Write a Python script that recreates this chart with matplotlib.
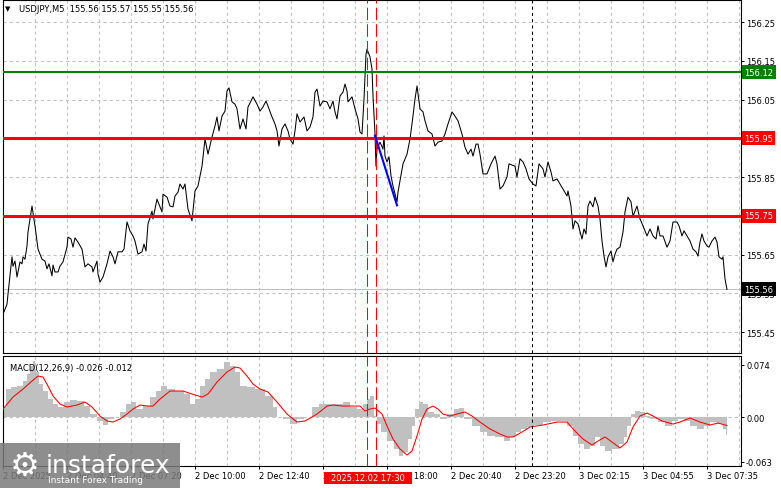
import matplotlib
matplotlib.use('Agg')
import matplotlib.pyplot as plt
from matplotlib.patches import Rectangle

plt.rcParams['font.family'] = ['DejaVu Sans']
plt.rcParams['font.size'] = 6

# USDJPY M5 close, x = bar number (5 min bars) from the left edge
bars = [0.5, 2, 2.5, 4.5, 5, 6, 7, 7.5, 8.5, 9.5, 10, 11, 12, 12.5, 14.5, 16, 17.5, 19.5, 21, 22,
        23, 24.5, 25, 26, 27.5, 28.5, 30, 32, 32.5, 34, 35, 36, 37.5, 39.5, 41, 42.5, 44.5, 45, 47, 47.5,
        48.5, 50, 52, 53.5, 55, 56, 57.5, 59.5, 60.5, 62, 63.5, 65, 66, 67.5, 69.5, 70.5, 71.5, 72.5, 74.5, 75,
        77, 77.5, 79.5, 80, 82, 83.5, 85, 86, 87.5, 88.5, 90, 91, 92.5, 94.5, 96, 97.5, 99.5, 101, 102.5, 104.5,
        106, 107, 108, 109.5, 111, 112, 113, 114.5, 116, 117, 118.5, 120, 121.5, 122.5, 124, 125, 127, 128.5, 130, 131.5,
        132.5, 134.5, 136, 137, 138, 139.5, 141, 142.5, 143.5, 145, 146, 147, 148.5, 150.5, 152, 153.5, 155, 156,
        157, 158.5, 160, 162, 163.5, 165, 166, 167, 168.5, 170, 171, 172, 172.5, 174.5, 176, 177.5, 178.5, 179.5,
        180.5, 181.5, 182, 183.5, 184.5, 185, 186, 186.5, 187, 188.5, 190, 190.5, 191, 192, 193, 194, 195, 197,
        197.5, 198.5, 200, 202, 203.5, 204.5, 206, 207, 208.5, 210, 211, 212.5, 214.5, 216, 217.5, 219.5, 221, 222.5,
        224.5, 226, 227.5, 229.5, 231, 232.5, 234, 235, 236.5, 237.5, 238.5, 240, 242, 244, 246, 247, 248.5, 250,
        252, 253, 256, 257, 258.5, 260, 261.5, 263, 265, 266.5, 268, 270, 271, 272.5, 274, 275, 277, 278.5,
        280, 282, 282.5, 284, 285, 286, 287.5, 289.5, 290.5, 291.5, 292.5, 293.5, 295, 296, 297.5, 298.5, 299.5, 300.5,
        301.5, 302.5, 304, 305, 306, 307, 308.5, 310, 311, 312.5, 314, 315, 316, 317, 318.5, 320, 322, 323.5,
        325, 326.5, 327.5, 328.5, 330, 332, 333.5, 335, 337, 338, 339.5, 340.5, 342, 343.5, 345, 346.5, 347.5, 348.5,
        349.5, 350.5, 352, 353, 354.5, 356, 357, 358, 359.5, 360, 361, 362]
close = [155.502, 155.522, 155.548, 155.644, 155.620, 155.633, 155.592, 155.605, 155.631, 155.626,
         155.644, 155.638, 155.672, 155.708, 155.775, 155.724, 155.664, 155.638, 155.633, 155.613,
         155.626, 155.595, 155.623, 155.605, 155.605, 155.620, 155.631, 155.669, 155.695, 155.690,
         155.669, 155.693, 155.682, 155.664, 155.618, 155.626, 155.618, 155.605, 155.633, 155.600,
         155.579, 155.592, 155.626, 155.659, 155.644, 155.626, 155.657, 155.657, 155.664, 155.734,
         155.711, 155.698, 155.685, 155.651, 155.657, 155.677, 155.659, 155.729, 155.762, 155.742,
         155.793, 155.786, 155.760, 155.806, 155.798, 155.775, 155.773, 155.801, 155.811, 155.832,
         155.819, 155.832, 155.767, 155.737, 155.814, 155.827, 155.878, 155.948, 155.909, 155.953,
         155.982, 156.005, 155.969, 156.007, 156.020, 156.072, 156.080, 156.044, 156.038, 156.026,
         155.974, 156.000, 155.974, 156.031, 156.046, 156.057, 156.038, 156.020, 156.031, 156.046,
         156.033, 156.005, 155.987, 155.969, 155.930, 155.974, 155.987, 155.969, 155.948, 155.935,
         155.969, 156.013, 155.992, 156.005, 155.969, 155.979, 156.005, 156.069,
         156.077, 156.033, 156.046, 156.044, 156.026, 156.046, 156.018, 156.000, 156.059, 156.069,
         156.090, 156.072, 156.044, 156.057, 156.026, 156.000, 155.966, 155.961,
         156.051, 156.167, 156.180, 156.160, 156.129, 156.059, 155.961, 155.878, 155.922, 155.940,
         155.922, 155.956, 155.904, 155.889, 155.902, 155.853, 155.827, 155.786,
         155.811, 155.840, 155.884, 155.909, 155.948, 155.987, 156.051, 156.085, 156.026, 156.018,
         155.995, 155.969, 155.961, 155.930, 155.940, 155.943, 155.961, 155.987,
         156.018, 156.007, 155.995, 155.961, 155.927, 155.909, 155.922, 155.904, 155.935, 155.935,
         155.909, 155.858, 155.858, 155.884, 155.904, 155.884, 155.819, 155.827,
         155.850, 155.884, 155.878, 155.850, 155.897, 155.889, 155.871, 155.845, 155.832, 155.827,
         155.884, 155.871, 155.850, 155.889, 155.863, 155.840, 155.845, 155.832,
         155.819, 155.801, 155.814, 155.775, 155.716, 155.737, 155.729, 155.690, 155.716, 155.703,
         155.775, 155.788, 155.773, 155.798, 155.775, 155.742, 155.685, 155.646,
         155.618, 155.644, 155.659, 155.631, 155.651, 155.664, 155.669, 155.708, 155.760, 155.798,
         155.786, 155.749, 155.762, 155.775, 155.742, 155.724, 155.698, 155.716,
         155.698, 155.690, 155.724, 155.698, 155.698, 155.669, 155.685, 155.734, 155.734, 155.724,
         155.698, 155.711, 155.698, 155.685, 155.664, 155.657, 155.646, 155.682,
         155.703, 155.685, 155.672, 155.669, 155.685, 155.695, 155.682, 155.644, 155.638, 155.644,
         155.587, 155.560]

green_level = 156.12
red_levels = [155.95, 155.75]
last_price = 155.56

trend_bars = [186, 197]
trend_vals = [155.957, 155.777]

red_vlines = [182, 186.5]
black_vline = 264.5

# MACD(12,26,9): main as histogram, signal as red line
hist_bars = [0, 2.5, 5, 8.5, 11, 12.5, 14.5, 15, 17, 18.5, 21, 23.5, 26, 28.5, 32, 35, 38.5, 42, 45, 48.5,
             51, 53.5, 57, 60, 62.5, 65, 67.5, 72, 75, 77.5, 80, 83.5, 88.5, 92, 94.5, 97, 99.5, 102, 105, 108.5,
             112, 114.5, 117, 120, 123.5, 128.5, 133.5, 136, 137.5, 142, 145, 148.5, 152.5, 156, 159.5, 163.5,
             167.5, 172, 175, 178.5, 181, 182.5, 184.5, 186, 187.5, 190, 193.5, 197, 198.5, 201, 203.5, 205,
             207, 208.5, 211, 213.5, 217, 220, 223.5, 227, 228.5, 232, 237, 240, 243.5, 248.5, 252, 255, 257.5,
             260, 263.5, 267.5, 272, 276, 280, 283.5, 286, 288.5, 292, 294.5, 297, 299.5, 302.5, 306, 309.5,
             311, 312.5, 315, 317, 319.5, 322, 325, 329.5, 332.5, 336, 338.5, 342, 345, 348.5, 352, 355,
             358.5, 361, 362]
hist_vals = [0.0141, 0.0395, 0.0424, 0.0438, 0.0508, 0.0607, 0.0720, 0.0791, 0.0636, 0.0466, 0.0367,
             0.0254, 0.0184, 0.0141, 0.0212, 0.0240, 0.0226, 0.0155, 0.0042, -0.0056, -0.0113, -0.0028,
             0.0, 0.0071, 0.0184, 0.0212, 0.0113, 0.0155, 0.0282, 0.0367, 0.0438, 0.0395, 0.0367, 0.0325,
             0.0184, 0.0254, 0.0438, 0.0537, 0.0636, 0.0678, 0.0777, 0.0720, 0.0636, 0.0438, 0.0424, 0.0395,
             0.0297, 0.0141, 0.0, -0.0028, -0.0099, -0.0028, 0.0, 0.0141, 0.0184, 0.0184, 0.0184, 0.0212,
             0.0141, 0.0113, 0.0184, 0.0254, 0.0297, 0.0014, -0.0099, -0.0212, -0.0339, -0.0452, -0.0551,
             -0.0494, -0.0311, -0.0127, 0.0113, 0.0212, 0.0184, 0.0071, 0.0042, -0.0028, 0.0042, 0.0113,
             0.0127, -0.0028, -0.0127, -0.0212, -0.0268, -0.0282, -0.0339, -0.0282, -0.0212, -0.0169,
             -0.0141, -0.0113, -0.0071, -0.0056, -0.0056, -0.0127, -0.0268, -0.0381, -0.0452, -0.0410,
             -0.0282, -0.0410, -0.0480, -0.0452, -0.0381, -0.0282, -0.0127, 0.0042, 0.0085, 0.0071, 0.0014,
             -0.0028, -0.0071, -0.0127, -0.0056, -0.0028, -0.0056, -0.0127, -0.0169, -0.0127, -0.0071,
             -0.0099, -0.0169, -0.026]
sig_bars = [0, 5, 10, 14.5, 17.5, 20, 22.5, 25, 28.5, 32, 37, 41, 44.5, 48.5, 52, 55, 58.5, 62, 65, 68.5,
            72.5, 75, 78.5, 83.5, 90, 94.5, 99.5, 102.5, 107, 112, 116, 118.5, 122, 125, 128.5, 132.5, 137,
            142, 147, 151, 157, 162, 165, 170, 178.5, 181, 183.5, 186, 189.5, 192, 195, 198.5, 202, 204.5,
            207, 209.5, 212, 215, 217.5, 220, 223.5, 227, 231, 234.5, 238.5, 243.5, 248.5, 252, 255, 259.5,
            263.5, 270, 277, 282, 286, 290, 294.5, 297.5, 301, 304.5, 308.5, 312, 315, 318.5, 322, 325,
            329.5, 335, 338.5, 343.5, 348.5, 353.5, 357.5, 362]
sig_vals = [0.0113, 0.0282, 0.0395, 0.0508, 0.0579, 0.0565, 0.0438, 0.0297, 0.0184, 0.0141, 0.0169,
            0.0212, 0.0141, 0.0014, -0.0056, -0.0071, -0.0028, 0.0042, 0.0113, 0.0169, 0.0155, 0.0155,
            0.0254, 0.0367, 0.0367, 0.0325, 0.0282, 0.0325, 0.0494, 0.0636, 0.0706, 0.0692, 0.0579, 0.0466,
            0.0395, 0.0353, 0.0212, 0.0042, -0.0071, -0.0056, 0.0042, 0.0155, 0.0169, 0.0155, 0.0155,
            0.0085, 0.0113, 0.0127, 0.0042, -0.0127, -0.0311, -0.0452, -0.0537, -0.0480, -0.0268, -0.0028,
            0.0113, 0.0155, 0.0113, 0.0042, 0.0014, 0.0042, 0.0071, 0.0014, -0.0071, -0.0169, -0.0240,
            -0.0282, -0.0282, -0.0212, -0.0141, -0.0113, -0.0071, -0.0071, -0.0198, -0.0311, -0.0395,
            -0.0339, -0.0282, -0.0353, -0.0438, -0.0353, -0.0141, 0.0014, 0.0056, 0.0014, -0.0056, -0.0099,
            -0.0071, -0.0014, -0.0071, -0.0113, -0.0085, -0.012]

time_ticks = [0, 32, 64, 96, 128, 160, 192, 224, 256, 288, 320, 352]
time_labels = ['2 Dec 2025', '2 Dec 04:40', '2 Dec 07:20', '2 Dec 10:00', '2 Dec 12:40', '2 Dec 15:20',
               '2 Dec 18:00', '2 Dec 20:40', '2 Dec 23:20', '3 Dec 02:15', '3 Dec 04:55', '3 Dec 07:35']
grid_ticks = [16, 48, 80, 112, 144, 176, 208, 240, 272, 304, 336, 368]
price_ticks = [155.45, 155.55, 155.65, 155.75, 155.85, 155.95, 156.05, 156.15, 156.25]
# 155.75 / 155.95 sit under the level tags, so their plain labels are left blank
price_ticklabels = ['155.45', '155.55', '155.65', '', '155.85', '', '156.05', '156.15', '156.25']
macd_ticks = [-0.063, 0.0, 0.074]
macd_ticklabels = ['-0.063', '0.00', '0.074']

W, H = 781, 489
fig = plt.figure(figsize=(W / 100, H / 100), dpi=100)
ax = fig.add_axes([2.5 / W, (H - 354) / H, 738 / W, 353 / H])
ax2 = fig.add_axes([2.5 / W, (H - 467) / H, 738 / W, 110 / H])

grid_kw = dict(color='#c0c0c0', linestyle=(0, (3, 3)), linewidth=0.75)
for a in (ax, ax2):
    a.set_xlim(-0.25, 368.75)
    a.set_xticks(time_ticks)
    a.set_xticks(grid_ticks, minor=True)
    a.grid(True, axis='x', which='both', **grid_kw)
    a.set_axisbelow(True)
    for s in a.spines.values():
        s.set_linewidth(0.8)
        s.set_color('black')
    a.yaxis.tick_right()
    a.tick_params(axis='y', which='both', direction='out', length=2, width=0.7, pad=2,
                  labelsize=6, colors='black')
    a.tick_params(axis='x', which='minor', length=0)
    for v in red_vlines:
        a.axvline(v, color='red', linewidth=0.75, linestyle=(0, (12, 4)), zorder=4)
    a.axvline(black_vline, color='black', linewidth=0.75, linestyle=(0, (3, 3)), zorder=4)

# price panel
ax.set_ylim(155.3959, 156.3068)
ax.set_yticks(price_ticks)
ax.set_yticklabels(price_ticklabels)
ax.grid(True, axis='y', **grid_kw)
ax.tick_params(axis='x', which='both', length=0, labelbottom=False)

ax.axhline(last_price, color='#c0c0c0', linewidth=0.75, zorder=1)
ax.plot(bars, close, color='black', linewidth=0.75, zorder=3)
ax.axhline(green_level, color='#008000', linewidth=1.5, zorder=5)
for lv in red_levels:
    ax.axhline(lv, color='#ff0000', linewidth=2.2, zorder=5)
ax.plot(trend_bars, trend_vals, color='#0000ff', linewidth=1.5, zorder=6)

ytr = ax.get_yaxis_transform()
for lv, col in [(green_level, '#008000'), (red_levels[0], '#ff0000'),
                (red_levels[1], '#ff0000'), (last_price, 'black')]:
    ax.text(1.0048, lv, f'{lv:.2f}', transform=ytr, color='white', fontsize=6,
            ha='left', va='center', clip_on=False, zorder=10,
            bbox=dict(boxstyle='square,pad=0.3', fc=col, ec='none'))

fig.text(8 / W, (H - 9) / H, '\u25bc', fontsize=5, ha='center', va='center')
fig.text(19 / W, (H - 9) / H, 'USDJPY,M5  155.56 155.57 155.55 155.56', fontsize=6,
         ha='left', va='center')

# MACD panel
ax2.set_ylim(-0.0692, 0.0862)
ax2.set_yticks(macd_ticks)
ax2.set_yticklabels(macd_ticklabels)
ax2.axhline(0, zorder=0.5, **grid_kw)
ax2.fill_between(hist_bars, hist_vals, 0, step='mid', color='#c0c0c0', linewidth=0, zorder=2)
ax2.plot(sig_bars, sig_vals, color='red', linewidth=0.75, zorder=3)
ax2.set_xticklabels(time_labels)
ax2.tick_params(axis='x', which='major', length=2, width=0.7, pad=1.5, labelsize=6, colors='black')
for lbl in ax2.get_xticklabels():
    lbl.set_horizontalalignment('left')
ax2.text(7 / 738, 0.9, 'MACD(12,26,9) -0.026 -0.012', transform=ax2.transAxes,
         fontsize=6, ha='left', va='center')

# time marker box
fig.add_artist(Rectangle((324 / W, (H - 485) / H), 88 / W, 12 / H, transform=fig.transFigure,
                         fc='#ff0000', ec='none', zorder=15))
fig.text(368 / W, (H - 478.5) / H, '2025.12.02 17:30', color='white', fontsize=6,
         ha='center', va='center', zorder=16)

# watermark
fig.add_artist(Rectangle((0, 0), 180 / W, 45 / H, transform=fig.transFigure,
                         fc='#7a7a7a', ec='none', alpha=0.85, zorder=20))
fig.text(25 / W, (H - 466) / H, '\u2699', fontsize=24, color='white', ha='center', va='center', zorder=21)
fig.text(46 / W, (H - 473) / H, 'instaforex', fontsize=18, color='white', ha='left',
         va='baseline', zorder=21)
fig.text(48 / W, (H - 481) / H, 'Instant Forex Trading', fontsize=6.5, color='white', ha='left',
         va='center', zorder=21)

fig.savefig('out.png', dpi=100)
